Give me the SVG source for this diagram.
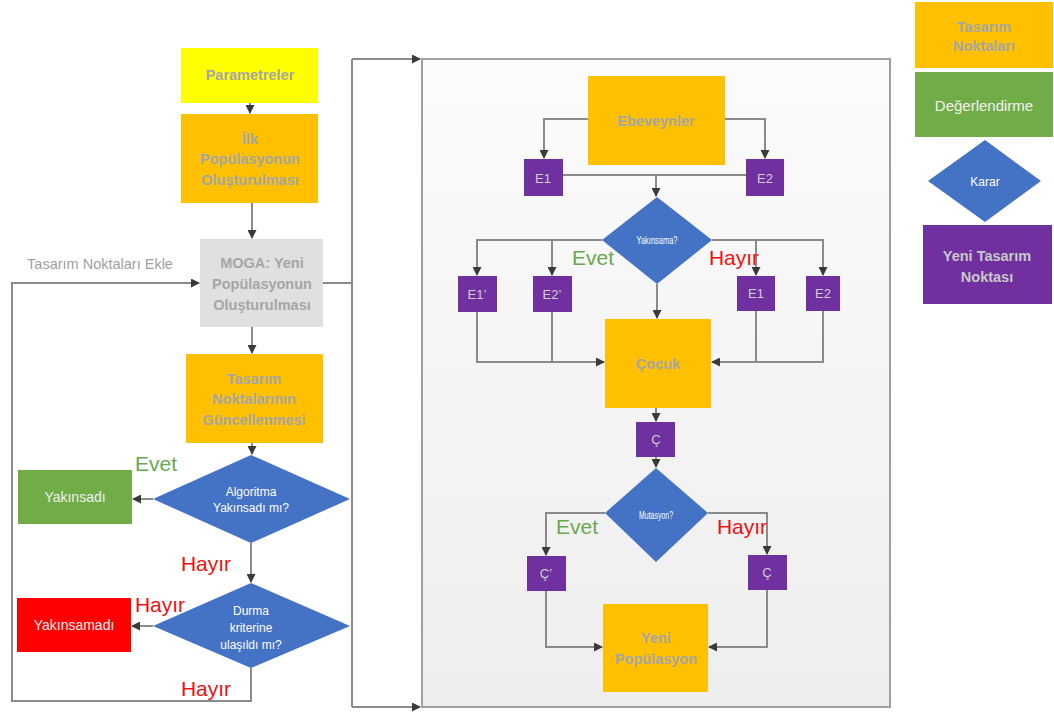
<svg xmlns="http://www.w3.org/2000/svg" width="1054" height="713" viewBox="0 0 1054 713">
<defs>
<marker id="ah" markerWidth="9" markerHeight="9" refX="8" refY="4.5" orient="auto" markerUnits="userSpaceOnUse">
<path d="M0,0 L9,4.5 L0,9 Z" fill="#3a3a3a"/>
</marker>
<linearGradient id="pg" x1="0" y1="0" x2="0" y2="1">
<stop offset="0" stop-color="#fbfbfb"/>
<stop offset="1" stop-color="#eeeeee"/>
</linearGradient>
<style>
.ln{fill:none;stroke:#8a8a8a;stroke-width:2}
.ar{marker-end:url(#ah)}
.t{font-family:"Liberation Sans",Arial,sans-serif;text-anchor:middle}
.bt{font-weight:bold;font-size:14.5px;fill:#a6a6a6}
.wt{font-size:12px;fill:#ffffff}
.pt{font-size:13px;fill:#cfcfcf}
.gr{fill:#6aa84f;font-size:21px}
.rd{fill:#ee1111;font-size:21px}
.yel{fill:#ffff00}
.org{fill:#ffc000}
.grn{fill:#70ad47}
.red{fill:#ff0000}
.blu{fill:#4472c4}
.pur{fill:#7030a0}
.gry{fill:#e0e0e0}
</style>
</defs>
<rect width="1054" height="713" fill="#ffffff"/>
<rect id="panel" x="422" y="59" width="468" height="648" fill="url(#pg)" stroke="#a0a0a0" stroke-width="2"/>

<g id="connectors">
<path class="ln ar" d="M250,103 V113"/>
<path class="ln ar" d="M252,203 V238"/>
<path class="ln ar" d="M252,327 V353"/>
<path class="ln ar" d="M252,443 V454"/>
<path class="ln ar" d="M153,499 H133"/>
<path class="ln ar" d="M251,543 V582"/>
<path class="ln ar" d="M153,626 H132"/>
<path class="ln ar" d="M251,668 V701 H12 V283 H199"/>
<path class="ln" d="M323,283 H352"/>
<path class="ln" d="M352,59 V707"/>
<path class="ln ar" d="M352,59 H420"/>
<path class="ln ar" d="M352,707 H420"/>

<path class="ln ar" d="M588,119 H544 V158"/>
<path class="ln ar" d="M725,119 H765 V158"/>
<path class="ln" d="M563,175 H746"/>
<path class="ln ar" d="M656,175 V196"/>
<path class="ln ar" d="M602,240 H477 V275"/>
<path class="ln ar" d="M552,240 V275"/>
<path class="ln ar" d="M712,240 H823 V275"/>
<path class="ln ar" d="M756,240 V275"/>
<path class="ln ar" d="M657,284 V318"/>
<path class="ln ar" d="M477,312 V362 H604"/>
<path class="ln" d="M552,312 V362"/>
<path class="ln ar" d="M823,311 V362 H712"/>
<path class="ln" d="M756,311 V362"/>
<path class="ln ar" d="M656,408 V421"/>
<path class="ln ar" d="M656,457 V467"/>
<path class="ln ar" d="M605,513 H546 V555"/>
<path class="ln ar" d="M708,513 H767 V554"/>
<path class="ln ar" d="M546,591 V647 H602"/>
<path class="ln ar" d="M767,590 V647 H709"/>
</g>

<g id="parametreler">
<rect class="yel" x="181" y="48" width="137" height="55"/>
<text class="t bt" x="250" y="80">Parametreler</text>
</g>
<g id="ilk-populasyon">
<rect class="org" x="181" y="114" width="137" height="89"/>
<text class="t bt" x="250" y="144">İlk</text>
<text class="t bt" x="250" y="164">Popülasyonun</text>
<text class="t bt" x="250" y="185">Oluşturulması</text>
</g>
<g id="moga">
<rect class="gry" x="200" y="239" width="123" height="88"/>
<text class="t bt" x="262" y="268">MOGA: Yeni</text>
<text class="t bt" x="262" y="289">Popülasyonun</text>
<text class="t bt" x="262" y="310">Oluşturulması</text>
</g>
<text class="t" x="100" y="269" style="font-size:14.5px;fill:#a0a0a0">Tasarım Noktaları Ekle</text>
<g id="guncelleme">
<rect class="org" x="186" y="354" width="137" height="89"/>
<text class="t bt" x="254" y="384">Tasarım</text>
<text class="t bt" x="254" y="404">Noktalarının</text>
<text class="t bt" x="254" y="425">Güncellenmesi</text>
</g>
<g id="algoritma">
<polygon class="blu" points="251,455 350,499 251,543 153,499"/>
<text class="t wt" x="251" y="496">Algoritma</text>
<text class="t wt" x="251" y="512">Yakınsadı mı?</text>
</g>
<g id="yakinsadi">
<rect class="grn" x="18" y="470" width="114" height="54"/>
<text class="t" x="75" y="502" style="font-size:14px;fill:#eeeeee">Yakınsadı</text>
</g>
<text class="t gr" x="156" y="471">Evet</text>
<text class="t rd" x="206" y="571">Hayır</text>
<g id="durma">
<polygon class="blu" points="251,583 350,626 251,668 153,626"/>
<text class="t wt" x="251" y="615">Durma</text>
<text class="t wt" x="251" y="632">kriterine</text>
<text class="t wt" x="251" y="649">ulaşıldı mı?</text>
</g>
<g id="yakinsamadi">
<rect class="red" x="17" y="598" width="114" height="54"/>
<text class="t" x="74" y="630" style="font-size:14px;fill:#eeeeee">Yakınsamadı</text>
</g>
<text class="t rd" x="160" y="612">Hayır</text>
<text class="t rd" x="206" y="696">Hayır</text>

<g id="ebeveynler">
<rect class="org" x="588" y="76" width="137" height="89"/>
<text class="t bt" x="656" y="126">Ebeveynler</text>
</g>
<g id="e1-top">
<rect class="pur" x="524" y="159" width="39" height="37"/>
<text class="t pt" x="543" y="183">E1</text>
</g>
<g id="e2-top">
<rect class="pur" x="746" y="159" width="38" height="37"/>
<text class="t pt" x="765" y="183">E2</text>
</g>
<g id="yakinsama">
<polygon class="blu" points="657,197 712,240 657,284 602,240"/>
<text class="t" x="657" y="244" textLength="41" lengthAdjust="spacingAndGlyphs" style="font-size:11.5px;fill:#ffffff">Yakınsama?</text>
</g>
<text class="t gr" x="593" y="265">Evet</text>
<text class="t rd" x="734" y="265">Hayır</text>
<g id="e1p">
<rect class="pur" x="458" y="276" width="39" height="36"/>
<text class="t pt" x="477" y="299">E1’</text>
</g>
<g id="e2p">
<rect class="pur" x="533" y="276" width="39" height="36"/>
<text class="t pt" x="552" y="299">E2’</text>
</g>
<g id="e1-right">
<rect class="pur" x="737" y="276" width="38" height="35"/>
<text class="t pt" x="756" y="298">E1</text>
</g>
<g id="e2-right">
<rect class="pur" x="806" y="276" width="34" height="35"/>
<text class="t pt" x="823" y="298">E2</text>
</g>
<g id="cocuk">
<rect class="org" x="605" y="319" width="106" height="89"/>
<text class="t bt" x="658" y="369">Çocuk</text>
</g>
<g id="c-box">
<rect class="pur" x="636" y="422" width="39" height="35"/>
<text class="t pt" x="656" y="444">Ç</text>
</g>
<g id="mutasyon">
<polygon class="blu" points="656,468 708,513 656,562 605,513"/>
<text class="t" x="656" y="519" textLength="34" lengthAdjust="spacingAndGlyphs" style="font-size:11px;fill:#ffffff">Mutasyon?</text>
</g>
<text class="t gr" x="577" y="534">Evet</text>
<text class="t rd" x="742" y="534">Hayır</text>
<g id="cp">
<rect class="pur" x="527" y="556" width="39" height="35"/>
<text class="t pt" x="546" y="578">Ç’</text>
</g>
<g id="c-right">
<rect class="pur" x="748" y="555" width="39" height="35"/>
<text class="t pt" x="767" y="577">Ç</text>
</g>
<g id="yeni-populasyon">
<rect class="org" x="603" y="604" width="105" height="88"/>
<text class="t bt" x="656" y="643">Yeni</text>
<text class="t bt" x="656" y="664">Popülasyon</text>
</g>

<g id="legend-tasarim">
<rect class="org" x="915" y="2" width="138" height="66"/>
<text class="t bt" x="984" y="32">Tasarım</text>
<text class="t bt" x="984" y="51">Noktaları</text>
</g>
<g id="legend-degerlendirme">
<rect class="grn" x="915" y="72" width="138" height="65"/>
<text class="t" x="984" y="111" style="font-size:15px;fill:#f2f2f2">Değerlendirme</text>
</g>
<g id="legend-karar">
<polygon class="blu" points="985,140 1041,181 985,222 928,181"/>
<text class="t" x="985" y="186" style="font-size:12px;fill:#ffffff">Karar</text>
</g>
<g id="legend-yeni">
<rect class="pur" x="923" y="225" width="129" height="79"/>
<text class="t" x="987" y="261" style="font-size:14.5px;font-weight:bold;fill:#c8c8c8">Yeni Tasarım</text>
<text class="t" x="987" y="282" style="font-size:14.5px;font-weight:bold;fill:#c8c8c8">Noktası</text>
</g>
</svg>
